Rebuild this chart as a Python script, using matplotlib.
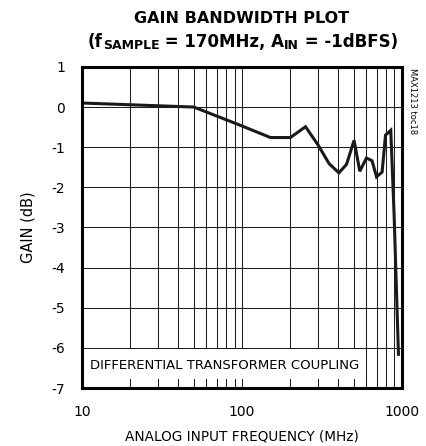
import matplotlib.pyplot as plt
from matplotlib.patches import Rectangle

plt.rcParams['font.family'] = 'DejaVu Sans'
plt.rcParams['axes.unicode_minus'] = False

# frequency (MHz) and gain (dB)
freq = [10, 50, 97, 151, 201, 250, 300, 351, 404, 451, 503, 546, 601, 652, 695, 753, 791, 853, 895, 953]
gain = [0.1, 0.0, -0.45, -0.76, -0.76, -0.49, -0.95, -1.41, -1.64, -1.43, -0.83, -1.6, -1.27, -1.34, -1.74, -1.62, -0.7, -0.58, -2.68, -6.16]

x_ticks = [10, 100, 1000]
y_ticks = [1, 0, -1, -2, -3, -4, -5, -6, -7]

fig = plt.figure(figsize=(4.27, 4.46), dpi=100)
ax = fig.add_axes([0.192, 0.130, 0.749, 0.720])
ax.set_xscale('log')
ax.set_xlim(10, 1000)
ax.set_ylim(-7, 1)

# grid
ax.set_xticks(x_ticks)
ax.set_xticklabels([str(t) for t in x_ticks])
ax.set_yticks(y_ticks)
ax.set_yticklabels([str(t) for t in y_ticks])
ax.grid(True, which='both', color='#1e1e1e', linewidth=0.75, zorder=1)
ax.tick_params(which='both', length=0, labelsize=10)
ax.tick_params(axis='x', pad=12)
ax.tick_params(axis='y', pad=12)
for s in ax.spines.values():
    s.set_linewidth(2.2)
    s.set_zorder(5)

# text box
ax.add_patch(Rectangle((10, -6.78), 590, 0.75, facecolor='white', edgecolor='none', zorder=2))
ax.text(11.3, -6.45, 'DIFFERENTIAL TRANSFORMER COUPLING', fontsize=9.5, va='center', ha='left', zorder=3)

ax.plot(freq, gain, color='#1a1a1a', linewidth=2.2, zorder=4, solid_joinstyle='miter')

fig.text(0.566, 0.022, 'ANALOG INPUT FREQUENCY (MHz)', fontsize=9.8, ha='center', va='center')
fig.text(0.066, 0.49, 'GAIN (dB)', fontsize=10.5, rotation=90, ha='center', va='center')

fig.text(0.566, 0.948, 'GAIN BANDWIDTH PLOT', fontsize=11.5, fontweight='bold', ha='center', va='baseline')

# second title line, pieces chained so subscripts sit a bit lower
pieces = [('(f', 12, 0.0), ('SAMPLE', 9, -0.004), (' = 170MHz, A', 12, 0.0), ('IN', 9, -0.004), (' = -1dBFS)', 12, 0.0)]
prev = None
for txt, size, dy in pieces:
    if prev is None:
        prev = fig.text(0.206, 0.895, txt, fontsize=size, fontweight='bold', ha='left', va='baseline')
    else:
        prev = ax.annotate(txt, xy=(1, 0.895 + dy), xycoords=(prev, 'figure fraction'),
                           fontsize=size, fontweight='bold', ha='left', va='baseline',
                           annotation_clip=False)

fig.text(0.965, 0.848, 'MAX1213 toc18', fontsize=6, rotation=-90, ha='center', va='top')

fig.savefig('out.png', dpi=100)
